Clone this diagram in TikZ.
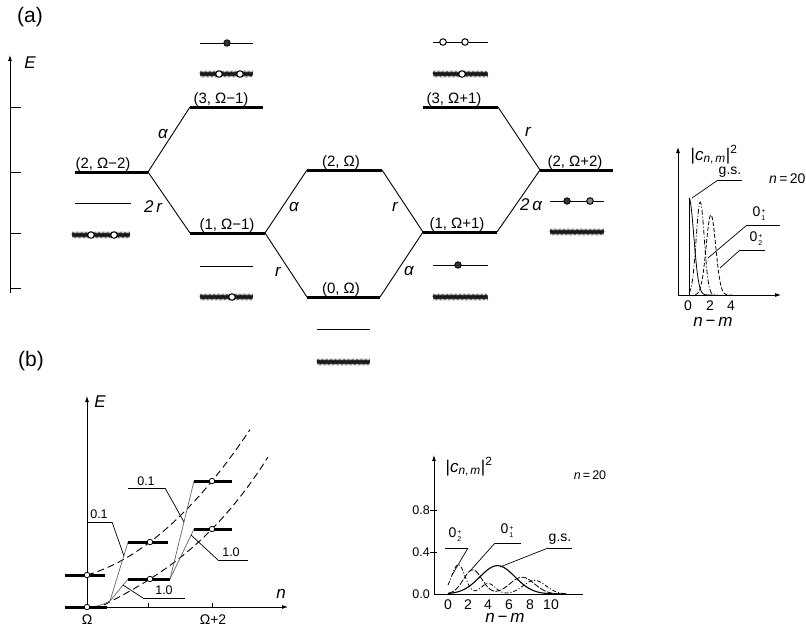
\documentclass[tikz,border=0pt]{standalone}
\usepackage{fontspec}
\setmainfont{Liberation Sans}
\usetikzlibrary{arrows.meta,decorations.pathmorphing}
\newcommand{\Ost}[1]{0\kern1pt\raisebox{-4pt}{\fontsize{7}{12}\selectfont\shortstack[l]{+\\#1}}}
\newcommand{\cnm}{|\textit{c}\textsubscript{\textit{n},\,\textit{m}}|\textsuperscript{2}}
\begin{document}
\begin{tikzpicture}[x=1pt,y=-1pt,
  lev/.style={line width=3pt},
  tl/.style={line width=1pt},
  conn/.style={line width=0.9pt},
  gline/.style={line width=0.7pt, black!60},
  hatchbg/.style={line width=3.6pt, black!55},
  hatch/.style={decorate, decoration={zigzag, segment length=1.3pt, amplitude=1.7pt}, line width=0.7pt, black!90},
  fdot/.style={circle, draw, line width=0.8pt, fill=black!80, inner sep=0pt, minimum size=6.5pt},
  odot/.style={circle, draw, line width=1pt, fill=white, inner sep=0pt, minimum size=6.5pt},
  sdot/.style={circle, draw, line width=0.8pt, fill=white, inner sep=0pt, minimum size=5.5pt},
  lvtxt/.style={font=\fontsize{15}{17}\selectfont, inner sep=0pt, anchor=base},
  cpl/.style={font=\fontsize{17}{19}\selectfont\itshape, inner sep=0pt},
  axl/.style={font=\fontsize{14}{16}\selectfont, inner sep=0pt},
  sml/.style={font=\fontsize{12.5}{14}\selectfont, inner sep=0pt},
  panel/.style={font=\fontsize{21}{25}\selectfont, inner sep=0pt},
  leader/.style={line width=0.7pt},
  ul/.style={line width=0.9pt},
  arr/.style={-{Latex[length=6pt,width=4pt]}, line width=0.8pt},
]
\useasboundingbox (0,0) rectangle (806,630);

% ---------------- (a) ----------------
\node[panel] (pa) at (30,17) {(a)};
\coordinate (aEb) at (10,293); \coordinate (aEt) at (10,55);
\draw[arr] (aEb) -- (aEt);
\node[cpl] (aE) at (30,63) {E};
\foreach \yy in {107,172,233,288} \draw[line width=0.8pt] (10,\yy) -- (21,\yy);

% levels
\coordinate (A22L) at (75,172);  \coordinate (A22R) at (148,172);
\coordinate (A31L) at (190,107); \coordinate (A31R) at (263,107);
\coordinate (A11L) at (190,233); \coordinate (A11R) at (265,233);
\coordinate (A2L) at (307,170);  \coordinate (A2R) at (382,170);
\coordinate (A0L) at (307,297);  \coordinate (A0R) at (380,297);
\coordinate (B31L) at (423,107); \coordinate (B31R) at (498,107);
\coordinate (B11L) at (423,232); \coordinate (B11R) at (497,232);
\coordinate (B22L) at (540,170); \coordinate (B22R) at (613,170);
\foreach \a in {A22,A31,A11,A2,A0,B31,B11,B22} \draw[lev] (\a L) -- (\a R);

\node[lvtxt] (tA22) at (103,168) {(2, Ω−2)};
\node[lvtxt] (tA31) at (221,103) {(3, Ω−1)};
\node[lvtxt] (tA2)  at (341,166) {(2, Ω)};
\node[lvtxt] (tA11) at (227,229) {(1, Ω−1)};
\node[lvtxt] (tA0)  at (341,293) {(0, Ω)};
\node[lvtxt] (tB31) at (454,103) {(3, Ω+1)};
\node[lvtxt] (tB11) at (457,228) {(1, Ω+1)};
\node[lvtxt] (tB22) at (575,166) {(2, Ω+2)};

% transitions
\draw[conn] (A22R) -- (A31L);
\draw[conn] (A22R) -- (A11L);
\draw[conn] (A11R) -- (A2L);
\draw[conn] (A11R) -- (A0L);
\draw[conn] (A2R) -- (B11L);
\draw[conn] (A0R) -- (B11L);
\draw[conn] (B31R) -- (B22L);
\draw[conn] (B11R) -- (B22L);

\node[cpl] (c1) at (163,134) {α};
\node[cpl] (c2) at (153,207) {2\,r};
\node[cpl] (c3) at (294,207) {α};
\node[cpl] (c4) at (278,272) {r};
\node[cpl] (c5) at (395,207) {r};
\node[cpl] (c6) at (409,271) {α};
\node[cpl] (c7) at (528,132) {r};
\node[cpl] (c8) at (531,205) {2\,α};

% small configuration sketches
\coordinate (s1a) at (200,43); \coordinate (s1b) at (253,43);
\draw[tl] (s1a) -- (s1b); \node[fdot] (s1d) at (227,43) {};
\coordinate (h1a) at (200,74); \coordinate (h1b) at (253,74);
\draw[hatchbg] (h1a) -- (h1b); \draw[hatch] (h1a) -- (h1b);
\node[odot] (h1c) at (219,74) {}; \node[odot] (h1e) at (240,74) {};
\coordinate (s2a) at (433,42); \coordinate (s2b) at (488,42);
\draw[tl] (s2a) -- (s2b); \node[odot] (s2c) at (443,42) {}; \node[odot] (s2e) at (465,42) {};
\coordinate (h2a) at (433,74); \coordinate (h2b) at (488,74);
\draw[hatchbg] (h2a) -- (h2b); \draw[hatch] (h2a) -- (h2b);
\node[odot] (h2c) at (462,74) {};
\coordinate (s3a) at (75,203); \coordinate (s3b) at (131,203);
\draw[tl] (s3a) -- (s3b);
\coordinate (h3a) at (72,235); \coordinate (h3b) at (130,235);
\draw[hatchbg] (h3a) -- (h3b); \draw[hatch] (h3a) -- (h3b);
\node[odot] (h3c) at (91,235) {}; \node[odot] (h3e) at (114,235) {};
\coordinate (s4a) at (200,266); \coordinate (s4b) at (253,266);
\draw[tl] (s4a) -- (s4b);
\coordinate (h4a) at (200,297); \coordinate (h4b) at (253,297);
\draw[hatchbg] (h4a) -- (h4b); \draw[hatch] (h4a) -- (h4b);
\node[odot] (h4c) at (232,297) {};
\coordinate (s5a) at (317,329); \coordinate (s5b) at (370,329);
\draw[tl] (s5a) -- (s5b);
\coordinate (h5a) at (317,362); \coordinate (h5b) at (370,362);
\draw[hatchbg] (h5a) -- (h5b); \draw[hatch] (h5a) -- (h5b);
\coordinate (s6a) at (433,265); \coordinate (s6b) at (488,265);
\draw[tl] (s6a) -- (s6b); \node[fdot] (s6d) at (458,265) {};
\coordinate (h6a) at (433,297); \coordinate (h6b) at (488,297);
\draw[hatchbg] (h6a) -- (h6b); \draw[hatch] (h6a) -- (h6b);
\coordinate (s7a) at (550,201); \coordinate (s7b) at (604,201);
\draw[tl] (s7a) -- (s7b); \node[fdot] (s7d) at (567,201) {};
\node[odot, fill=black!45] (s7e) at (590,201) {};
\coordinate (h7a) at (550,232); \coordinate (h7b) at (604,232);
\draw[hatchbg] (h7a) -- (h7b); \draw[hatch] (h7a) -- (h7b);

% small distribution plot (a)
\coordinate (pO) at (678,295); \coordinate (pX) at (781,295); \coordinate (pY) at (678,147);
\draw[arr] (pO) -- (pX);
\draw[arr] (pO) -- (pY);
\node[font=\fontsize{17}{19}\selectfont, inner sep=0pt] (pcn) at (714,155) {\cnm};
\node[axl, anchor=west] (pn20) at (769,179) {\textit{n}\,=\,20};
\node[axl] (px0) at (688,306) {0};
\node[axl] (px2) at (710,306) {2};
\node[axl] (px4) at (731,306) {4};
\node[font=\fontsize{17}{19}\selectfont, inner sep=0pt] (pnm) at (713,322) {\textit{n}\,−\,\textit{m}};
\coordinate (gsb) at (689,295); \coordinate (gst) at (689,198);
\draw[line width=0.8pt] (gsb) -- (gst);
\draw[line width=0.8pt] plot[domain=0:2.2, samples=40] ({689+10.7*\x},{295-97*exp(-(\x)^2/(2*0.45^2))});
\draw[line width=0.8pt, dash pattern=on 5pt off 2pt on 1pt off 2pt] plot[domain=0:2.7, samples=60] ({689+10.7*\x},{295-93*exp(-(\x-1.05)^2/(2*0.38^2))});
\draw[line width=0.8pt, dash pattern=on 4pt off 2pt] plot[domain=0.6:4, samples=60] ({689+10.7*\x},{295-80*exp(-(\x-2.05)^2/(2*0.45^2))});
\node[axl] (pgs) at (730,172) {g.s.};
\coordinate (pgsu1) at (718,180); \coordinate (pgsu2) at (742,180); \coordinate (pgse) at (692,198);
\draw[ul] (pgsu1) -- (pgsu2); \draw[leader] (pgsu1) -- (pgse);
\node[axl] (po1) at (759,214) {\Ost{1}};
\coordinate (po1u1) at (747,225); \coordinate (po1u2) at (780,225); \coordinate (po1e) at (708,258);
\draw[ul] (po1u1) -- (po1u2); \draw[leader] (po1u1) -- (po1e);
\node[axl] (po2) at (756,239) {\Ost{2}};
\coordinate (po2u1) at (740,250); \coordinate (po2u2) at (765,250); \coordinate (po2e) at (720,268);
\draw[ul] (po2u1) -- (po2u2); \draw[leader] (po2u1) -- (po2e);

% ---------------- (b) ----------------
\node[panel] (pb) at (31,361) {(b)};
\coordinate (bEb) at (87,609); \coordinate (bEt) at (87,396);
\coordinate (bO) at (87,607); \coordinate (bNx) at (288,607);
\draw[arr] (bEb) -- (bEt);
\draw[arr] (bO) -- (bNx);
\node[cpl] (bE) at (100,402) {E};
\node[cpl] (bn) at (281,594) {n};
\draw[line width=0.8pt] (148,607) -- (148,603);
\draw[line width=0.8pt] (212,607) -- (212,603);
\node[axl] (bom) at (87,620) {Ω};
\node[axl] (bom2) at (213,620) {Ω+2};

\draw[line width=0.9pt, dash pattern=on 7pt off 4pt] plot[domain=0:1.63, samples=60] ({87+100*\x},{575-29.2*\x-36.8*\x^2});
\draw[line width=0.9pt, dash pattern=on 7pt off 4pt] plot[domain=0.04:1.68, samples=60] ({100+100*\x},{607-51.2*\x-4.03*\x^2-11.09*\x^3});

\coordinate (b0L) at (65,607);   \coordinate (b0R) at (107,607);
\coordinate (b1L) at (65,575);   \coordinate (b1R) at (105,575);
\coordinate (b2uL) at (128,542); \coordinate (b2uR) at (168,542);
\coordinate (b2lL) at (128,579); \coordinate (b2lR) at (170,579);
\coordinate (b3uL) at (194,481); \coordinate (b3uR) at (232,481);
\coordinate (b3lL) at (194,529); \coordinate (b3lR) at (232,529);
\coordinate (bP0) at (110,601);
\draw[gline] (bO) .. controls (98,607) and (104,604) .. (bP0);
\draw[gline] (bP0) -- (b2uL);
\draw[gline] (bP0) -- (b2lL);
\draw[gline] (b2lR) -- (b3uL);
\draw[gline] (b2lR) -- (b3lL);

\foreach \a in {b0,b1,b2u,b2l,b3u,b3l} \draw[lev] (\a L) -- (\a R);
\node[sdot] (bc0) at (87,607) {};
\node[sdot] (bc1) at (87,575) {};
\node[sdot] (bc2u) at (150,542) {};
\node[sdot] (bc2l) at (150,579) {};
\node[sdot] (bc3u) at (212,481) {};
\node[sdot] (bc3l) at (212,529) {};

\node[sml] (bl1) at (99,514) {0.1};
\coordinate (bl1a) at (88,522); \coordinate (bl1b) at (112,522); \coordinate (bl1e) at (124,556);
\draw[ul] (bl1a) -- (bl1b); \draw[leader] (bl1b) -- (bl1e);
\node[sml] (bl2) at (146,481) {0.1};
\coordinate (bl2a) at (128,488); \coordinate (bl2b) at (165,488); \coordinate (bl2e) at (184,522);
\draw[ul] (bl2a) -- (bl2b); \draw[leader] (bl2b) -- (bl2e);
\node[sml] (bl3) at (164,590) {1.0};
\coordinate (bl3a) at (143,598); \coordinate (bl3b) at (185,598); \coordinate (bl3e) at (123,585);
\draw[ul] (bl3a) -- (bl3b); \draw[leader] (bl3a) -- (bl3e);
\node[sml] (bl4) at (231,552) {1.0};
\coordinate (bl4a) at (218,560); \coordinate (bl4b) at (248,560); \coordinate (bl4e) at (191,535);
\draw[ul] (bl4a) -- (bl4b); \draw[leader] (bl4a) -- (bl4e);

% distribution plot (b)
\coordinate (qO) at (434,594); \coordinate (qY) at (434,455); \coordinate (qX) at (583,594);
\draw[arr] (qO) -- (qY);
\draw[line width=0.8pt] (qO) -- (qX);
\draw[line width=0.8pt] (430,510) -- (437,510);
\draw[line width=0.8pt] (430,552) -- (437,552);
\node[sml, anchor=east] (q08) at (430,510) {0.8};
\node[sml, anchor=east] (q04) at (430,552) {0.4};
\node[sml, anchor=east] (q00) at (430,594) {0.0};
\node[axl] (qx0) at (448,605) {0};
\node[axl] (qx2) at (468,605) {2};
\node[axl] (qx4) at (488,605) {4};
\node[axl] (qx6) at (509,605) {6};
\node[axl] (qx8) at (530,605) {8};
\node[axl] (qx10) at (551,605) {10};
\node[font=\fontsize{17}{19}\selectfont, inner sep=0pt] (qnm) at (505,618) {\textit{n}\,−\,\textit{m}};
\node[font=\fontsize{17}{19}\selectfont, inner sep=0pt] (qcn) at (469,467) {\cnm};
\node[sml] (qn20) at (590,475) {\textit{n}\,=\,20};
\draw[line width=1.1pt] plot[domain=0:11.5, samples=80] ({448+10.3*\x},{594-105*0.27*exp(-(\x-4.8)^2/(2*1.7^2))});
\draw[line width=0.8pt, dash pattern=on 6pt off 1.5pt] plot[domain=0:11.5, samples=90] ({448+10.3*\x},{594-105*(0.23*exp(-(\x-2.4)^2/(2*0.9^2))+0.16*exp(-(\x-7.2)^2/(2*1.2^2)))});
\draw[line width=0.8pt, dash pattern=on 4pt off 2pt on 1pt off 2pt] plot[domain=0:11.5, samples=100] ({448+10.3*\x},{594-105*(0.28*exp(-(\x-1.0)^2/(2*0.65^2))+0.10*exp(-(\x-3.9)^2/(2*0.7^2))+0.13*exp(-(\x-8.4)^2/(2*1.1^2)))});
\node[axl] (qo2) at (455,535) {\Ost{2}};
\coordinate (qo2a) at (445,548); \coordinate (qo2b) at (468,548); \coordinate (qo2e) at (452,575);
\draw[ul] (qo2a) -- (qo2b); \draw[leader] (qo2b) -- (qo2e);
\node[axl] (qo1) at (507,531) {\Ost{1}};
\coordinate (qo1a) at (495,543); \coordinate (qo1b) at (521,543); \coordinate (qo1e) at (470,571);
\draw[ul] (qo1a) -- (qo1b); \draw[leader] (qo1a) -- (qo1e);
\node[axl] (qgs) at (560,539) {g.s.};
\coordinate (qgsa) at (548,548); \coordinate (qgsb) at (572,548); \coordinate (qgse) at (500,567);
\draw[ul] (qgsa) -- (qgsb); \draw[leader] (qgsa) -- (qgse);
\end{tikzpicture}
\end{document}
